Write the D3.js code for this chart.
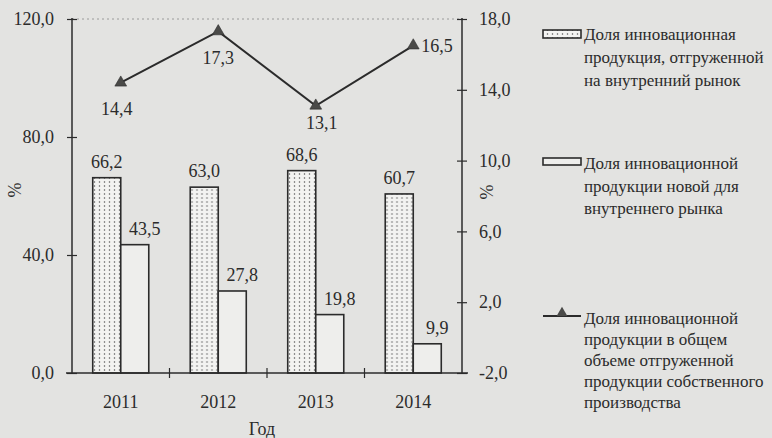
<!DOCTYPE html>
<html>
<head>
<meta charset="utf-8">
<script src="https://cdn.jsdelivr.net/npm/d3@7"></script>
<style>
    body { margin: 0; background: #e3e3e1; }
    svg { display: block; }
    text { fill: #2b2b2b; font-family: "Liberation Serif", "Times New Roman", "DejaVu Serif", serif; }
</style>
</head>
<body>
<div id="chart"></div>
<script>
// Data
const years = ["2011", "2012", "2013", "2014"];
const shareShipped = [66.2, 63.0, 68.6, 60.7];   // dotted bars, left axis
const shareNew = [43.5, 27.8, 19.8, 9.9];        // white bars, left axis
const shareTotal = [14.4, 17.3, 13.1, 16.5];     // line, right axis
const leftTicks = [0, 40, 80, 120];
const rightTicks = [-2, 2, 6, 10, 14, 18];

const legendShipped = ["Доля инновационная", "продукция, отгруженной", "на внутренний рынок"];
const legendNew = ["Доля инновационной", "продукции новой для", "внутреннего рынка"];
const legendTotal = ["Доля инновационной", "продукции в общем", "объеме отгруженной", "продукции собственного", "производства"];

const width = 772, height = 438;
const plot = { left: 72, right: 462, top: 19, bottom: 373 };
const ink = "#2b2b2b";

// number format with decimal comma and plain hyphen for minus
const fmt = v => d3.format(".1f")(v).replace(".", ",").replace("\u2212", "-");

const svg = d3.select("#chart").append("svg")
    .attr("width", width)
    .attr("height", height);

// dotted pattern for the first series
const defs = svg.append("defs");
const pat = defs.append("pattern")
    .attr("id", "dots")
    .attr("patternUnits", "userSpaceOnUse")
    .attr("width", 5)
    .attr("height", 4);
pat.append("rect").attr("width", 5).attr("height", 4).attr("fill", "#f3f3f1");
pat.append("circle").attr("cx", 2.5).attr("cy", 2).attr("r", 0.75).attr("fill", "#555");

// Scales
const x = d3.scaleBand()
    .domain(years)
    .range([plot.left, plot.right])
    .padding(0);

const x1 = d3.scaleBand()
    .domain(["shipped", "new"])
    .range([0, x.bandwidth()])
    .paddingInner(0)
    .paddingOuter(0.74);

const yLeft = d3.scaleLinear()
    .domain([0, 120])
    .range([plot.bottom, plot.top]);

const yRight = d3.scaleLinear()
    .domain([-2, 18])
    .range([plot.bottom, plot.top]);

// faint dotted top border
svg.append("line")
    .attr("x1", plot.left).attr("x2", plot.right)
    .attr("y1", plot.top).attr("y2", plot.top)
    .attr("stroke", "#9a9a9a")
    .attr("stroke-width", 1)
    .attr("stroke-dasharray", "2,3");

// Bars
const groups = svg.selectAll(".year")
    .data(years)
    .enter().append("g")
    .attr("class", "year")
    .attr("transform", d => `translate(${x(d)},0)`);

groups.append("rect")
    .attr("x", x1("shipped"))
    .attr("width", x1.bandwidth())
    .attr("y", (d, i) => yLeft(shareShipped[i]))
    .attr("height", (d, i) => yLeft(0) - yLeft(shareShipped[i]))
    .attr("fill", "url(#dots)")
    .attr("stroke", ink)
    .attr("stroke-width", 1.6);

groups.append("rect")
    .attr("x", x1("new"))
    .attr("width", x1.bandwidth())
    .attr("y", (d, i) => yLeft(shareNew[i]))
    .attr("height", (d, i) => yLeft(0) - yLeft(shareNew[i]))
    .attr("fill", "#eeeeec")
    .attr("stroke", ink)
    .attr("stroke-width", 1.6);

// bar value labels
groups.append("text")
    .attr("x", x1("shipped") + x1.bandwidth() / 2)
    .attr("y", (d, i) => yLeft(shareShipped[i]) - 10)
    .attr("text-anchor", "middle")
    .attr("font-size", 18)
    .text((d, i) => fmt(shareShipped[i]));

groups.append("text")
    .attr("x", x1("new") + x1.bandwidth() / 2 + 10)
    .attr("y", (d, i) => yLeft(shareNew[i]) - 10)
    .attr("text-anchor", "middle")
    .attr("font-size", 18)
    .text((d, i) => fmt(shareNew[i]));

// Axes
const axisLeft = svg.append("g")
    .attr("transform", `translate(${plot.left},0)`)
    .call(d3.axisLeft(yLeft).tickValues(leftTicks).tickFormat(fmt).tickSize(6).tickPadding(12));

const axisRight = svg.append("g")
    .attr("transform", `translate(${plot.right},0)`)
    .call(d3.axisRight(yRight).tickValues(rightTicks).tickFormat(fmt).tickSize(5).tickPadding(12));

const axisBottom = svg.append("g")
    .attr("transform", `translate(0,${plot.bottom})`)
    .call(d3.axisBottom(x).tickSize(0).tickPadding(22));

// tick marks crossing the axes, like in the print
[axisLeft, axisRight, axisBottom].forEach(g => {
    g.attr("font-family", null).attr("font-size", null);
    g.select(".domain").remove();
    g.selectAll("text").attr("font-size", 18).attr("fill", ink);
});
[axisLeft, axisRight].forEach(g => {
    g.selectAll(".tick line").attr("x1", -5).attr("x2", 5).attr("stroke", ink).attr("stroke-width", 1.2);
});

// axis lines
svg.append("line")
    .attr("x1", plot.left).attr("x2", plot.left)
    .attr("y1", plot.top - 1).attr("y2", plot.bottom)
    .attr("stroke", ink).attr("stroke-width", 1.5);
svg.append("line")
    .attr("x1", plot.right).attr("x2", plot.right)
    .attr("y1", plot.top - 1).attr("y2", plot.bottom)
    .attr("stroke", ink).attr("stroke-width", 1.5);
svg.append("line")
    .attr("x1", plot.left - 6).attr("x2", plot.right + 6)
    .attr("y1", plot.bottom).attr("y2", plot.bottom)
    .attr("stroke", ink).attr("stroke-width", 1.5);

// category boundary ticks on the x axis
svg.selectAll(".xtick")
    .data(years.slice(1))
    .enter().append("line")
    .attr("x1", d => x(d)).attr("x2", d => x(d))
    .attr("y1", plot.bottom - 5).attr("y2", plot.bottom + 5)
    .attr("stroke", ink).attr("stroke-width", 1.2);

// Line series on right axis
const lineData = years.map((y, i) => ({ year: y, value: shareTotal[i] }));
const line = d3.line()
    .x(d => x(d.year) + x.bandwidth() / 2)
    .y(d => yRight(d.value));

svg.append("path")
    .datum(lineData)
    .attr("d", line)
    .attr("fill", "none")
    .attr("stroke", ink)
    .attr("stroke-width", 2);

svg.selectAll(".marker")
    .data(lineData)
    .enter().append("path")
    .attr("class", "marker")
    .attr("transform", d => `translate(${x(d.year) + x.bandwidth() / 2},${yRight(d.value)})`)
    .attr("d", d3.symbol().type(d3.symbolTriangle).size(60))
    .attr("fill", "#4a4a48")
    .attr("stroke", ink)
    .attr("stroke-width", 0.6);

// line labels placement (dx, dy, anchor)
const lineLabelPos = [[-4, 32, "middle"], [0, 33, "middle"], [6, 23, "middle"], [8, 6, "start"]];
svg.selectAll(".linelabel")
    .data(lineData)
    .enter().append("text")
    .attr("x", (d, i) => x(d.year) + x.bandwidth() / 2 + lineLabelPos[i][0])
    .attr("y", (d, i) => yRight(d.value) + lineLabelPos[i][1])
    .attr("text-anchor", (d, i) => lineLabelPos[i][2])
    .attr("font-size", 18)
    .text(d => fmt(d.value));

// Axis titles
svg.append("text")
    .attr("transform", "translate(21,190) rotate(-90)")
    .attr("text-anchor", "middle")
    .attr("font-size", 18)
    .text("%");
svg.append("text")
    .attr("transform", "translate(493,192) rotate(-90)")
    .attr("text-anchor", "middle")
    .attr("font-size", 18)
    .text("%");
svg.append("text")
    .attr("x", 262)
    .attr("y", 435)
    .attr("text-anchor", "middle")
    .attr("font-size", 18)
    .text("Год");

// Legend
const legendX = 543, swW = 38, textX = 584, lineH = 22;

function legendText(lines, y0, lh) {
    const t = svg.append("text")
        .attr("x", textX)
        .attr("y", y0)
        .attr("font-size", 17);
    lines.forEach((s, i) => {
        t.append("tspan").attr("x", textX).attr("y", y0 + i * lh).text(s);
    });
}

svg.append("rect")
    .attr("x", legendX).attr("y", 30).attr("width", swW).attr("height", 8)
    .attr("fill", "url(#dots)").attr("stroke", ink).attr("stroke-width", 1.6);
legendText(legendShipped, 40, 23);

svg.append("rect")
    .attr("x", legendX).attr("y", 158).attr("width", swW).attr("height", 7)
    .attr("fill", "#eeeeec").attr("stroke", ink).attr("stroke-width", 1.6);
legendText(legendNew, 169, 22.5);

svg.append("line")
    .attr("x1", legendX).attr("x2", legendX + swW)
    .attr("y1", 316).attr("y2", 316)
    .attr("stroke", ink).attr("stroke-width", 2);
svg.append("path")
    .attr("transform", `translate(${legendX + swW / 2},313)`)
    .attr("d", d3.symbol().type(d3.symbolTriangle).size(50))
    .attr("fill", "#4a4a48");
legendText(legendTotal, 324, 21);
</script>
</body>
</html>
